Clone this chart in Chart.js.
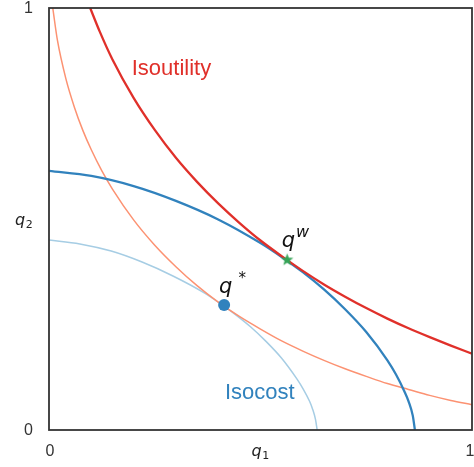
<!DOCTYPE html>
<html>
<head>
<meta charset="utf-8">
<script src="https://cdn.jsdelivr.net/npm/chart.js@4.4.0/dist/chart.umd.min.js"></script>
<style>
  html, body { margin: 0; padding: 0; background: #fff; }
  #wrap { width: 474px; height: 467px; }
</style>
</head>
<body>
<div id="wrap"><canvas id="chart" width="474" height="467"></canvas></div>
<script>
// ---- data ----
const xTicks = [0, 1];
const yTicks = [0, 1];

// higher isoutility curve (red)
const utilHighX = [0.0974, 0.12, 0.15, 0.2, 0.25, 0.3, 0.35, 0.4, 0.45, 0.5, 0.55, 0.6, 0.65, 0.7, 0.75, 0.8, 0.85, 0.9, 0.95, 1.0];
const utilHighY = [1.0, 0.944, 0.878, 0.787, 0.711, 0.645, 0.588, 0.537, 0.491, 0.449, 0.412, 0.377, 0.345, 0.316, 0.289, 0.264, 0.241, 0.220, 0.200, 0.181];

// lower isoutility curve (salmon)
const utilLowX = [0.0089, 0.02, 0.04, 0.06, 0.08, 0.1, 0.125, 0.15, 0.2, 0.25, 0.3, 0.35, 0.4, 0.45, 0.5, 0.55, 0.6, 0.65, 0.7, 0.75, 0.8, 0.85, 0.9, 0.95, 1.0];
const utilLowY = [1.0, 0.923, 0.832, 0.765, 0.710, 0.664, 0.614, 0.571, 0.498, 0.438, 0.387, 0.342, 0.303, 0.269, 0.239, 0.211, 0.187, 0.165, 0.145, 0.127, 0.110, 0.096, 0.082, 0.070, 0.060];

// outer isocost curve (blue)
const costHighX = [0, 0.1, 0.2, 0.3, 0.4, 0.5, 0.55, 0.6, 0.65, 0.7, 0.75, 0.8, 0.82, 0.84, 0.85, 0.86, 0.865];
const costHighY = [0.614, 0.602, 0.578, 0.543, 0.499, 0.443, 0.410, 0.374, 0.333, 0.286, 0.232, 0.165, 0.132, 0.092, 0.068, 0.034, 0];

// inner isocost curve (light blue)
const costLowX = [0, 0.073, 0.147, 0.220, 0.293, 0.367, 0.403, 0.440, 0.477, 0.513, 0.550, 0.586, 0.601, 0.616, 0.623, 0.630, 0.634];
const costLowY = [0.450, 0.441, 0.424, 0.398, 0.365, 0.325, 0.301, 0.274, 0.244, 0.210, 0.170, 0.121, 0.097, 0.068, 0.050, 0.025, 0];

// optimum points
const qStar = { x: 0.414, y: 0.296 };
const qW = { x: 0.563, y: 0.403 };

const RED = '#e0302a';
const SALMON = '#fc9272';
const BLUE = '#3182bd';
const LIGHTBLUE = '#a6cde4';
const GREEN = '#35a456';

const toPts = (xs, ys) => xs.map((x, i) => ({ x: x, y: ys[i] }));

// filled 5-point star marker, like matplotlib '*'
function makeStar(r, color) {
    const c = document.createElement('canvas');
    c.width = c.height = Math.ceil(2 * r + 2);
    const g = c.getContext('2d');
    const cx = c.width / 2, cy = c.height / 2;
    g.beginPath();
    for (let i = 0; i < 10; i++) {
        const rad = i % 2 === 0 ? r : r * 0.42;
        const a = -Math.PI / 2 + i * Math.PI / 5;
        const px = cx + rad * Math.cos(a), py = cy + rad * Math.sin(a);
        if (i === 0) g.moveTo(px, py); else g.lineTo(px, py);
    }
    g.closePath();
    g.fillStyle = color;
    g.fill();
    return c;
}

// draws "q" with sub/superscript in math-ish style
function mathQ(ctx, left, base, size, sup, sub, supGap) {
    ctx.textAlign = 'left';
    ctx.textBaseline = 'alphabetic';
    ctx.font = `italic ${size}px "DejaVu Sans", sans-serif`;
    ctx.fillText('q', left, base);
    const w = ctx.measureText('q').width;
    if (sup) {
        const s = Math.round(size * (sup === '*' ? 0.7 : 0.78));
        ctx.font = (sup === '*' ? '' : 'italic ') + `${s}px "DejaVu Sans", sans-serif`;
        ctx.fillText(sup, left + w + (supGap || 1), base - size * 0.45);
    }
    if (sub) {
        const s = Math.round(size * 0.7);
        ctx.font = `${s}px "DejaVu Sans", sans-serif`;
        ctx.fillText(sub, left + w + 0.5, base + size * 0.2);
    }
}

const textPlugin = {
    id: 'textPlugin',
    afterDatasetsDraw(chart) {
        const { ctx, chartArea: a, scales: { x, y } } = chart;
        ctx.save();

        // frame
        ctx.strokeStyle = '#333';
        ctx.lineWidth = 1.8;
        ctx.strokeRect(a.left, a.top, a.right - a.left, a.bottom - a.top);

        // tick labels
        ctx.fillStyle = '#333';
        ctx.font = '16px "Liberation Sans", Arial, sans-serif';
        ctx.textAlign = 'center';
        ctx.textBaseline = 'middle';
        xTicks.forEach(v => ctx.fillText(String(v), Math.min(x.getPixelForValue(v) + 1, a.right - 2), a.bottom + 22));
        yTicks.forEach(v => ctx.fillText(String(v), a.left - 20.5, y.getPixelForValue(v) + 1));

        // axis titles
        ctx.fillStyle = '#222';
        mathQ(ctx, (a.left + a.right) / 2 - 9, a.bottom + 25.5, 16, null, '1');
        mathQ(ctx, a.left - 34, (a.top + a.bottom) / 2 + 5.5, 16, null, '2');

        // curve names
        ctx.font = '22px "Liberation Sans", Arial, sans-serif';
        ctx.textAlign = 'left';
        ctx.textBaseline = 'alphabetic';
        ctx.fillStyle = RED;
        ctx.fillText('Isoutility', x.getPixelForValue(0.1955), y.getPixelForValue(0.841));
        ctx.fillStyle = BLUE;
        ctx.fillText('Isocost', x.getPixelForValue(0.416), y.getPixelForValue(0.074));

        // point labels
        ctx.fillStyle = '#111';
        mathQ(ctx, x.getPixelForValue(0.550), y.getPixelForValue(0.434), 21, 'w', null, 1);
        mathQ(ctx, x.getPixelForValue(0.402), y.getPixelForValue(0.325), 21, '*', null, 6);

        ctx.restore();
    }
};

new Chart(document.getElementById('chart'), {
    type: 'scatter',
    data: {
        datasets: [
            { data: [qW], pointStyle: makeStar(6.5, GREEN), pointRadius: 6, order: 0 },
            { data: [qStar], pointRadius: 6, backgroundColor: BLUE, borderColor: BLUE, borderWidth: 0, order: 1 },
            { data: toPts(utilHighX, utilHighY), showLine: true, borderColor: RED, borderWidth: 2.3, pointRadius: 0, cubicInterpolationMode: 'monotone', order: 2 },
            { data: toPts(costHighX, costHighY), showLine: true, borderColor: BLUE, borderWidth: 2.3, pointRadius: 0, cubicInterpolationMode: 'monotone', order: 3 },
            { data: toPts(utilLowX, utilLowY), showLine: true, borderColor: SALMON, borderWidth: 1.5, pointRadius: 0, cubicInterpolationMode: 'monotone', order: 4 },
            { data: toPts(costLowX, costLowY), showLine: true, borderColor: LIGHTBLUE, borderWidth: 1.5, pointRadius: 0, cubicInterpolationMode: 'monotone', order: 5 }
        ]
    },
    options: {
        responsive: false,
        animation: false,
        events: [],
        layout: { autoPadding: false, padding: { left: 49, top: 8, right: 2, bottom: 37 } },
        plugins: { legend: { display: false }, tooltip: { enabled: false } },
        scales: {
            x: { type: 'linear', min: 0, max: 1, display: false },
            y: { type: 'linear', min: 0, max: 1, display: false }
        }
    },
    plugins: [textPlugin]
});
</script>
</body>
</html>
